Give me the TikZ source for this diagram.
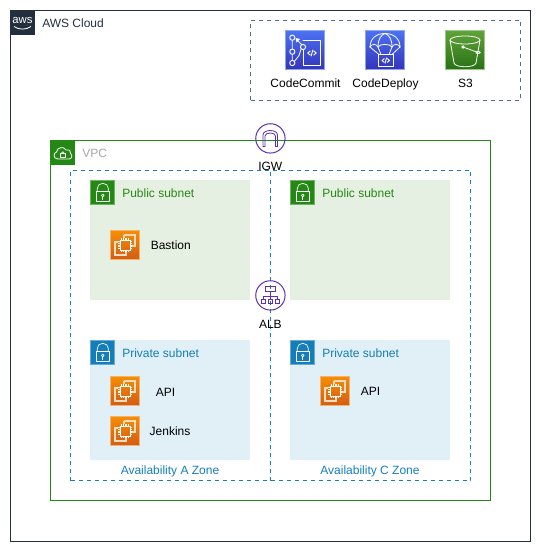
\documentclass[tikz,border=0pt]{standalone}
\usepackage{fontspec}
\setmainfont{Liberation Sans}
\definecolor{awsdark}{HTML}{232F3E}
\definecolor{vpcgreen}{HTML}{248814}
\definecolor{pubfill}{HTML}{E6F0E2}
\definecolor{privfill}{HTML}{E1EFF7}
\definecolor{privblue}{HTML}{147EBA}
\definecolor{dashgray}{HTML}{5A6C86}
\definecolor{purp}{HTML}{5A30B5}
\definecolor{orgtop}{HTML}{F78E04}
\definecolor{orgbot}{HTML}{D05C17}
\definecolor{orgedge}{HTML}{F5B26B}
\definecolor{orgline}{HTML}{F8DCC0}
\definecolor{blutop}{HTML}{4D72F3}
\definecolor{blubot}{HTML}{3334B9}
\definecolor{bluedge}{HTML}{8FA4F0}
\definecolor{grntop}{HTML}{60A337}
\definecolor{grnbot}{HTML}{277116}
\definecolor{grnedge}{HTML}{9CC58A}
\tikzset{
  x=0.75pt,y=-0.75pt,
  sz/.style 2 args={minimum width=#1*0.75pt,minimum height=#2*0.75pt},
  area/.style={rectangle,anchor=north west,inner sep=0pt,outer sep=0pt,line width=0.75pt},
  lbl/.style={font=\fontsize{9}{11}\selectfont,inner sep=0pt,text=black,text height=6.5pt,text depth=2pt},
  ltext/.style={lbl,anchor=west},
  iconline/.style={draw=white,line width=0.6pt,fill=none,line cap=round,line join=round},
  purpline/.style={draw=purp,line width=0.6pt,fill=none},
  bluetile/.style={top color=blutop,bottom color=blubot,draw=bluedge,line width=.6pt},
  greentile/.style={top color=grntop,bottom color=grnbot,draw=grnedge,line width=.6pt},
  orangetile/.style={top color=orgtop,bottom color=orgbot,draw=orgedge,line width=.6pt},
}
% header square with lock
\newcommand{\lockicon}[3]{%
 \begin{scope}[shift={(#1,#2)}]
  \fill[#3] (0,0) rectangle (25,25);
  \draw[white,opacity=.35,line width=.5pt] (.3,.3) rectangle (24.7,24.7);
  \draw[iconline,line width=.5pt] (7.3,11.5) -- (7.3,8.3) arc[start angle=180,end angle=0,x radius=5.5,y radius=-5] -- (18.3,11.5);
  \draw[iconline,line width=.5pt] (6,11.5) rectangle (19.5,21.5);
  \draw[iconline,line width=.5pt] (12.7,15.5) circle (1.4);
  \draw[iconline,line width=.5pt] (12.7,16.9) -- (12.7,19.5);
 \end{scope}}
% compute instance
\newcommand{\ecicon}[2]{%
 \begin{scope}[shift={(#1,#2)}]
  \shade[orangetile] (0.3,0.3) rectangle (29.7,29.7);
  \draw[orgline,line width=.9pt] (14,5) -- (25,5) -- (25,16) -- (22,16)  (14,5) -- (14,8);
  \draw[orgline,line width=.9pt] (8,12) -- (5,12) -- (5,25) -- (16,25) -- (16,22);
  \draw[white,line width=.7pt] (10,10) rectangle (20,20);
  \foreach \t in {11.5,13.5,15,16.5,18.5}{
    \draw[white,line width=.4pt] (\t,8) -- (\t,10) (\t,20) -- (\t,22) (8,\t) -- (10,\t) (20,\t) -- (22,\t);}
 \end{scope}}
\newcommand{\codemark}[3]{%
  \begin{scope}[shift={(#1,#2)},scale=#3]
   \draw[iconline,line width=.7pt] (-2,-2.5) -- (-5,0) -- (-2,2.5);
   \draw[iconline,line width=.7pt] (2,-2.5) -- (5,0) -- (2,2.5);
   \draw[iconline,line width=.7pt] (1,-3.5) -- (-1,3.5);
  \end{scope}}
\begin{document}
\begin{tikzpicture}
\useasboundingbox (0,0) rectangle (542,552);
% containers
\node[area,draw=awsdark,sz={520}{531}] (cloud) at (10.5,10.5) {};
\node[area,draw=dashgray,dashed,sz={270}{80}] (services) at (250.5,20.5) {};
\node[area,draw=vpcgreen,sz={440}{360}] (vpc) at (50.5,140.5) {};
\node[area,fill=pubfill,sz={160}{120}] (pubA) at (90,180) {};
\node[area,fill=pubfill,sz={160}{120}] (pubC) at (290,180) {};
\node[area,fill=privfill,sz={160}{120}] (privA) at (90,340) {};
\node[area,fill=privfill,sz={160}{120}] (privC) at (290,340) {};
\node[area,draw=privblue,dashed,sz={200}{310}] (azA) at (70.5,170.5) {};
\node[area,draw=privblue,dashed,sz={200}{310}] (azC) at (270.5,170.5) {};
% AWS logo
\fill[awsdark] (10,10) rectangle (35,35);
\node[inner sep=0pt,text=white,font=\fontsize{8.5}{9}\selectfont] (awslogo) at (22.5,20.5) {aws};
\draw[white,line width=.6pt] (14,26.5) .. controls (19,30) and (26,30) .. (31,26.5);
\node[ltext,text=awsdark] (cloudlbl) at (42,25) {AWS Cloud};
% VPC header
\fill[vpcgreen] (50,140) rectangle (75,165);
\draw[iconline,line width=.6pt] (58,159) .. controls (53,159) and (53,153) .. (56.5,152) .. controls (57,147) and (64,146) .. (66,150) .. controls (70,149) and (71,152) .. (70.5,153.5) .. controls (73,155) and (72,159) .. (69,159) -- cycle;
\draw[iconline,line width=.5pt] (60,153.5) rectangle (65.5,157);
\draw[iconline,line width=.5pt] (61.2,153.5) arc[start angle=180,end angle=0,x radius=1.6,y radius=-1.8];
\node[ltext,text=black!35!white] (vpclbl) at (82,155) {VPC};
% subnet headers
\lockicon{90}{180}{vpcgreen}
\lockicon{290}{180}{vpcgreen}
\lockicon{90}{340}{privblue}
\lockicon{290}{340}{privblue}
\node[ltext,text=vpcgreen] (pubAlbl) at (122,194.4) {Public subnet};
\node[ltext,text=vpcgreen] (pubClbl) at (322,194.4) {Public subnet};
\node[ltext,text=privblue] (privAlbl) at (122,354.4) {Private subnet};
\node[ltext,text=privblue] (privClbl) at (322,354.4) {Private subnet};
\node[lbl,text=privblue] (azAlbl) at (170,471.7) {Availability A Zone};
\node[lbl,text=privblue] (azClbl) at (370,471.7) {Availability C Zone};
% instances
\ecicon{110}{230}
\ecicon{110}{376}
\ecicon{110}{416}
\ecicon{320}{376}
\node[ltext] (bastion) at (150.5,246.8) {Bastion};
\node[lbl] (apiA) at (165.5,393.5) {API};
\node[lbl] (jenkins) at (170,432.8) {Jenkins};
\node[lbl] (apiC) at (370.5,392.5) {API};
% CodeCommit
\begin{scope}[shift={(285,30)}]
 \shade[bluetile] (.3,.3) rectangle (39.7,39.7);
 \draw[iconline] (18,10.7) -- (35,10.7) -- (35,35) -- (18,35) -- (18,20);
 \draw[iconline] (7.3,10.4) -- (7.3,19) (7.3,24.4) -- (7.3,30.4) (9.5,31.3) -- (14,25.5) -- (16.2,18.8);
 \fill[white] (10.5,8) -- (15,9) -- (11.5,12.5) -- cycle;
 \draw[iconline] (12,9.8) -- (16.5,14.5);
 \foreach \p in {(7.3,7.7),(7.3,21.7),(7.3,33),(18,17)} \draw[iconline,line width=.7pt] \p circle (2.6);
 \codemark{27}{23}{0.85}
\end{scope}
% CodeDeploy
\begin{scope}[shift={(365,30)}]
 \shade[bluetile] (.3,.3) rectangle (39.7,39.7);
 \draw[iconline] (5,17) .. controls (5,8) and (12,3.5) .. (20,3.5) .. controls (28,3.5) and (35,8) .. (35,17);
 \draw[iconline] (5,17) .. controls (7,13.5) and (11,13.5) .. (13,17) .. controls (15,13.5) and (25,13.5) .. (27,17) .. controls (29,13.5) and (33,13.5) .. (35,17);
 \draw[iconline] (13,17) .. controls (13,9) and (16,5) .. (20,3.5) .. controls (24,5) and (27,9) .. (27,17);
 \draw[iconline] (5,17) -- (14,24.5) (35,17) -- (27,24.5) (13,17) -- (16,24.5) (27,17) -- (24,24.5);
 \draw[iconline] (13.3,24.5) rectangle (28.3,36.7);
 \codemark{20.8}{30.5}{0.75}
\end{scope}
% S3
\begin{scope}[shift={(445,30)}]
 \shade[greentile] (.3,.3) rectangle (39.7,39.7);
 \draw[iconline] (20,10) ellipse[x radius=15,y radius=4];
 \draw[iconline] (5,10) -- (9,33) .. controls (10,38) and (30,38) .. (31,33) -- (35,10);
 \draw[iconline] (18,17) -- (33,22.5);
 \draw[iconline] (18,17) circle (1.3);
 \draw[iconline] (33,22.5) ellipse[x radius=2.2,y radius=1.1];
\end{scope}
\node[lbl] (cc) at (305.5,85) {CodeCommit};
\node[lbl] (cd) at (385.5,85) {CodeDeploy};
\node[lbl] (s3) at (465.5,85) {S3};
% IGW
\node[circle,draw=purp,line width=.75pt,minimum size=22pt,inner sep=0pt] (igw) at (270.4,138.4) {};
\draw[purpline] (263,146.5) -- (263,135) .. controls (263,129) and (277.5,129) .. (277.5,135) -- (277.5,146.5) -- (275.5,146.5) -- (275.5,136) .. controls (275.5,132) and (265,132) .. (265,136) -- (265,146.5) -- cycle;
\node[lbl] (igwlbl) at (270.3,167.8) {IGW};
% ALB
\node[circle,draw=purp,line width=.75pt,minimum size=22pt,inner sep=0pt] (alb) at (270.4,295.4) {};
\draw[purpline] (265.7,286) rectangle (275,291.7);
\draw[purpline] (270.4,291.7) -- (270.4,299.3) (263.5,299.3) -- (263.5,296.7) -- (277.2,296.7) -- (277.2,299.3);
\foreach \bx in {261.3,268.3,275} \draw[purpline] (\bx,299.3) rectangle ++(4.4,4);
\node[lbl] (alblbl) at (270.4,325) {ALB};
\end{tikzpicture}
\end{document}
